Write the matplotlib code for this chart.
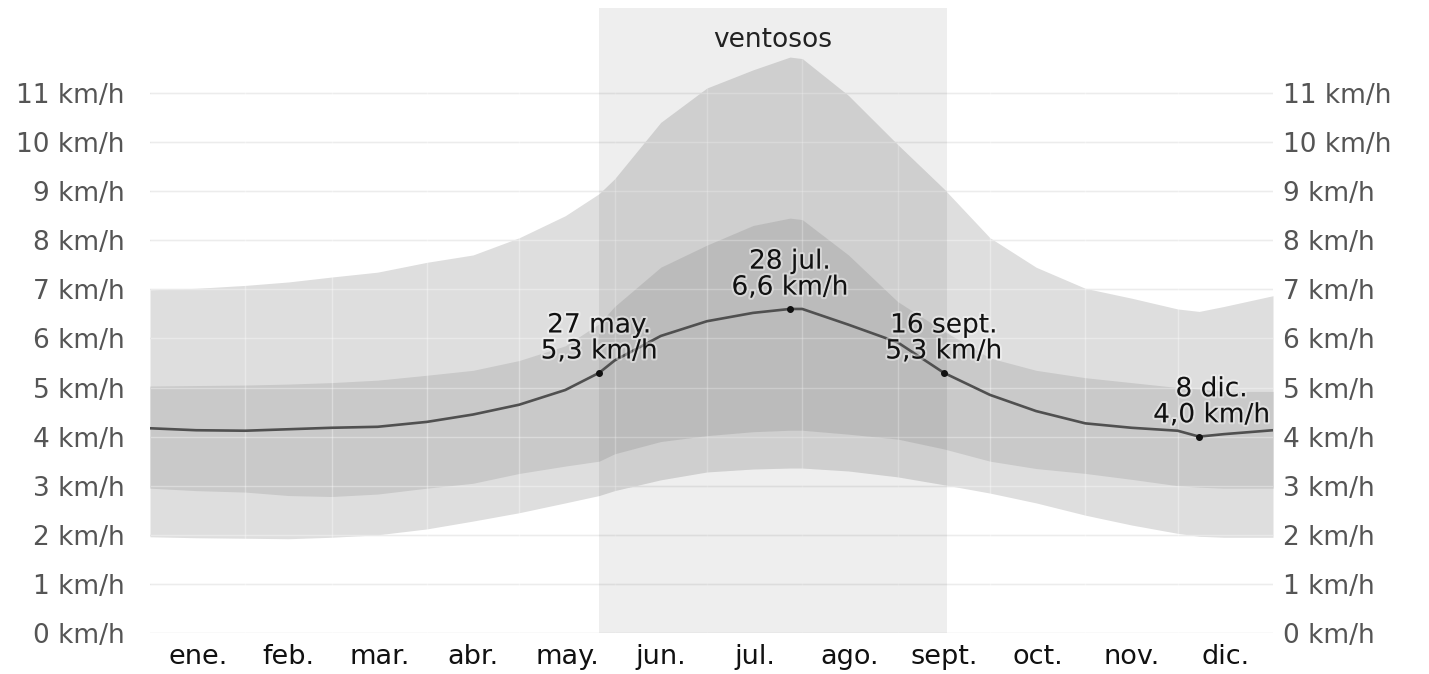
import matplotlib.pyplot as plt
import matplotlib.patheffects as pe

# day of year (0 = 1 ene.) and wind speed percentiles, km/h
days = [0, 15, 31, 45, 59, 74, 90, 105, 120, 135, 146, 151, 166, 181, 196, 208,
        212, 227, 243, 258, 273, 288, 304, 319, 334, 341, 349, 365]
median = [4.17, 4.13, 4.12, 4.15, 4.18, 4.2, 4.3, 4.45, 4.65, 4.95, 5.3, 5.55, 6.05, 6.35,
          6.52, 6.6, 6.6, 6.28, 5.92, 5.3, 4.85, 4.52, 4.27, 4.18, 4.12, 4.0, 4.05, 4.13]
p75 = [5.03, 5.04, 5.05, 5.07, 5.1, 5.15, 5.25, 5.35, 5.55, 5.85, 6.3, 6.65, 7.45, 7.9,
       8.3, 8.45, 8.42, 7.7, 6.75, 6.15, 5.6, 5.35, 5.2, 5.1, 5.0, 4.97, 4.92, 4.92]
p25 = [2.95, 2.9, 2.87, 2.8, 2.78, 2.83, 2.95, 3.05, 3.25, 3.4, 3.5, 3.65, 3.9, 4.02,
       4.1, 4.13, 4.13, 4.05, 3.95, 3.75, 3.5, 3.35, 3.25, 3.13, 3.0, 2.97, 2.95, 2.95]
p90 = [6.99, 7.02, 7.08, 7.15, 7.25, 7.35, 7.55, 7.7, 8.05, 8.5, 8.95, 9.25, 10.4, 11.1,
       11.47, 11.73, 11.7, 10.95, 9.95, 9.05, 8.05, 7.45, 7.02, 6.82, 6.6, 6.55, 6.65, 6.87]
p10 = [1.96, 1.94, 1.93, 1.92, 1.95, 2.0, 2.12, 2.28, 2.45, 2.65, 2.8, 2.9, 3.12, 3.28,
       3.34, 3.36, 3.36, 3.3, 3.18, 3.02, 2.85, 2.65, 2.4, 2.2, 2.03, 1.97, 1.95, 1.95]

month_starts = [0, 31, 59, 90, 120, 151, 181, 212, 243, 273, 304, 334, 365]
month_labels = ['ene.', 'feb.', 'mar.', 'abr.', 'may.', 'jun.', 'jul.', 'ago.',
                'sept.', 'oct.', 'nov.', 'dic.']
yticks = list(range(0, 12))
ylabels = [f'{v} km/h' for v in yticks]

windy_start, windy_end = 146, 259
windy_label = 'ventosos'

# marked points: day, label
marks_day = [146, 208, 258, 341]
marks_text = ['27 may.\n5,3 km/h', '28 jul.\n6,6 km/h', '16 sept.\n5,3 km/h', '8 dic.\n4,0 km/h']
marks_dx = [0, 0, 0, 9]

plt.rcParams['font.family'] = ['DejaVu Sans']

fig = plt.figure(figsize=(14.29, 6.74), dpi=100)
ax = fig.add_axes([150 / 1429, 41 / 674, 1123 / 1429, 625 / 674])
ax.set_xlim(0, 365)
ax.set_ylim(0, 12.73)

ax.set_axisbelow(True)
ax.yaxis.grid(True, color='#e2e2e2', lw=1)

ax.fill_between(days, p10, p90, color='#dedede', lw=0, zorder=1)
ax.fill_between(days, p25, p75, color='#c9c9c9', lw=0, zorder=1.1)

# faint grid over the bands
ax.hlines(yticks, 0, 365, color='white', alpha=0.35, lw=1, zorder=1.5)
ax.vlines(month_starts[1:-1], 0, 12.73, color='white', alpha=0.35, lw=1, zorder=1.5)

ax.axvspan(windy_start, windy_end, color='black', alpha=0.065, lw=0, zorder=2)
ax.text((windy_start + windy_end) / 2, 0.949, windy_label, transform=ax.get_xaxis_transform(),
        ha='center', va='center', fontsize=19, color='#222222')

ax.plot(days, median, color='#505050', lw=1.9, zorder=3)

for d, t, dx in zip(marks_day, marks_text, marks_dx):
    v = median[days.index(d)]
    ax.plot(d, v, 'o', color='#111111', ms=4, zorder=4)
    ax.annotate(t, (d, v), xytext=(dx, 6), textcoords='offset points', ha='center',
                va='bottom', fontsize=19, color='#111111', linespacing=1.0, zorder=5,
                path_effects=[pe.withStroke(linewidth=3, foreground='white', alpha=0.4)])

mids = [(a + b) / 2 for a, b in zip(month_starts[:-1], month_starts[1:])]
ax.set_xticks(mids)
ax.set_xticklabels(month_labels, fontsize=19.5, color='#111111')
ax.set_yticks(yticks)
ax.set_yticklabels(ylabels, fontsize=19, color='#555555')
ax.tick_params(axis='both', length=0)
ax.tick_params(axis='x', pad=8)
ax.tick_params(axis='y', pad=18)
for s in ax.spines.values():
    s.set_visible(False)

ax2 = ax.twinx()
ax2.set_ylim(ax.get_ylim())
ax2.set_yticks(yticks)
ax2.set_yticklabels(ylabels, fontsize=19, color='#555555')
ax2.tick_params(axis='y', length=0, pad=7)
for s in ax2.spines.values():
    s.set_visible(False)

fig.savefig('out.png', dpi=100, facecolor='white')
